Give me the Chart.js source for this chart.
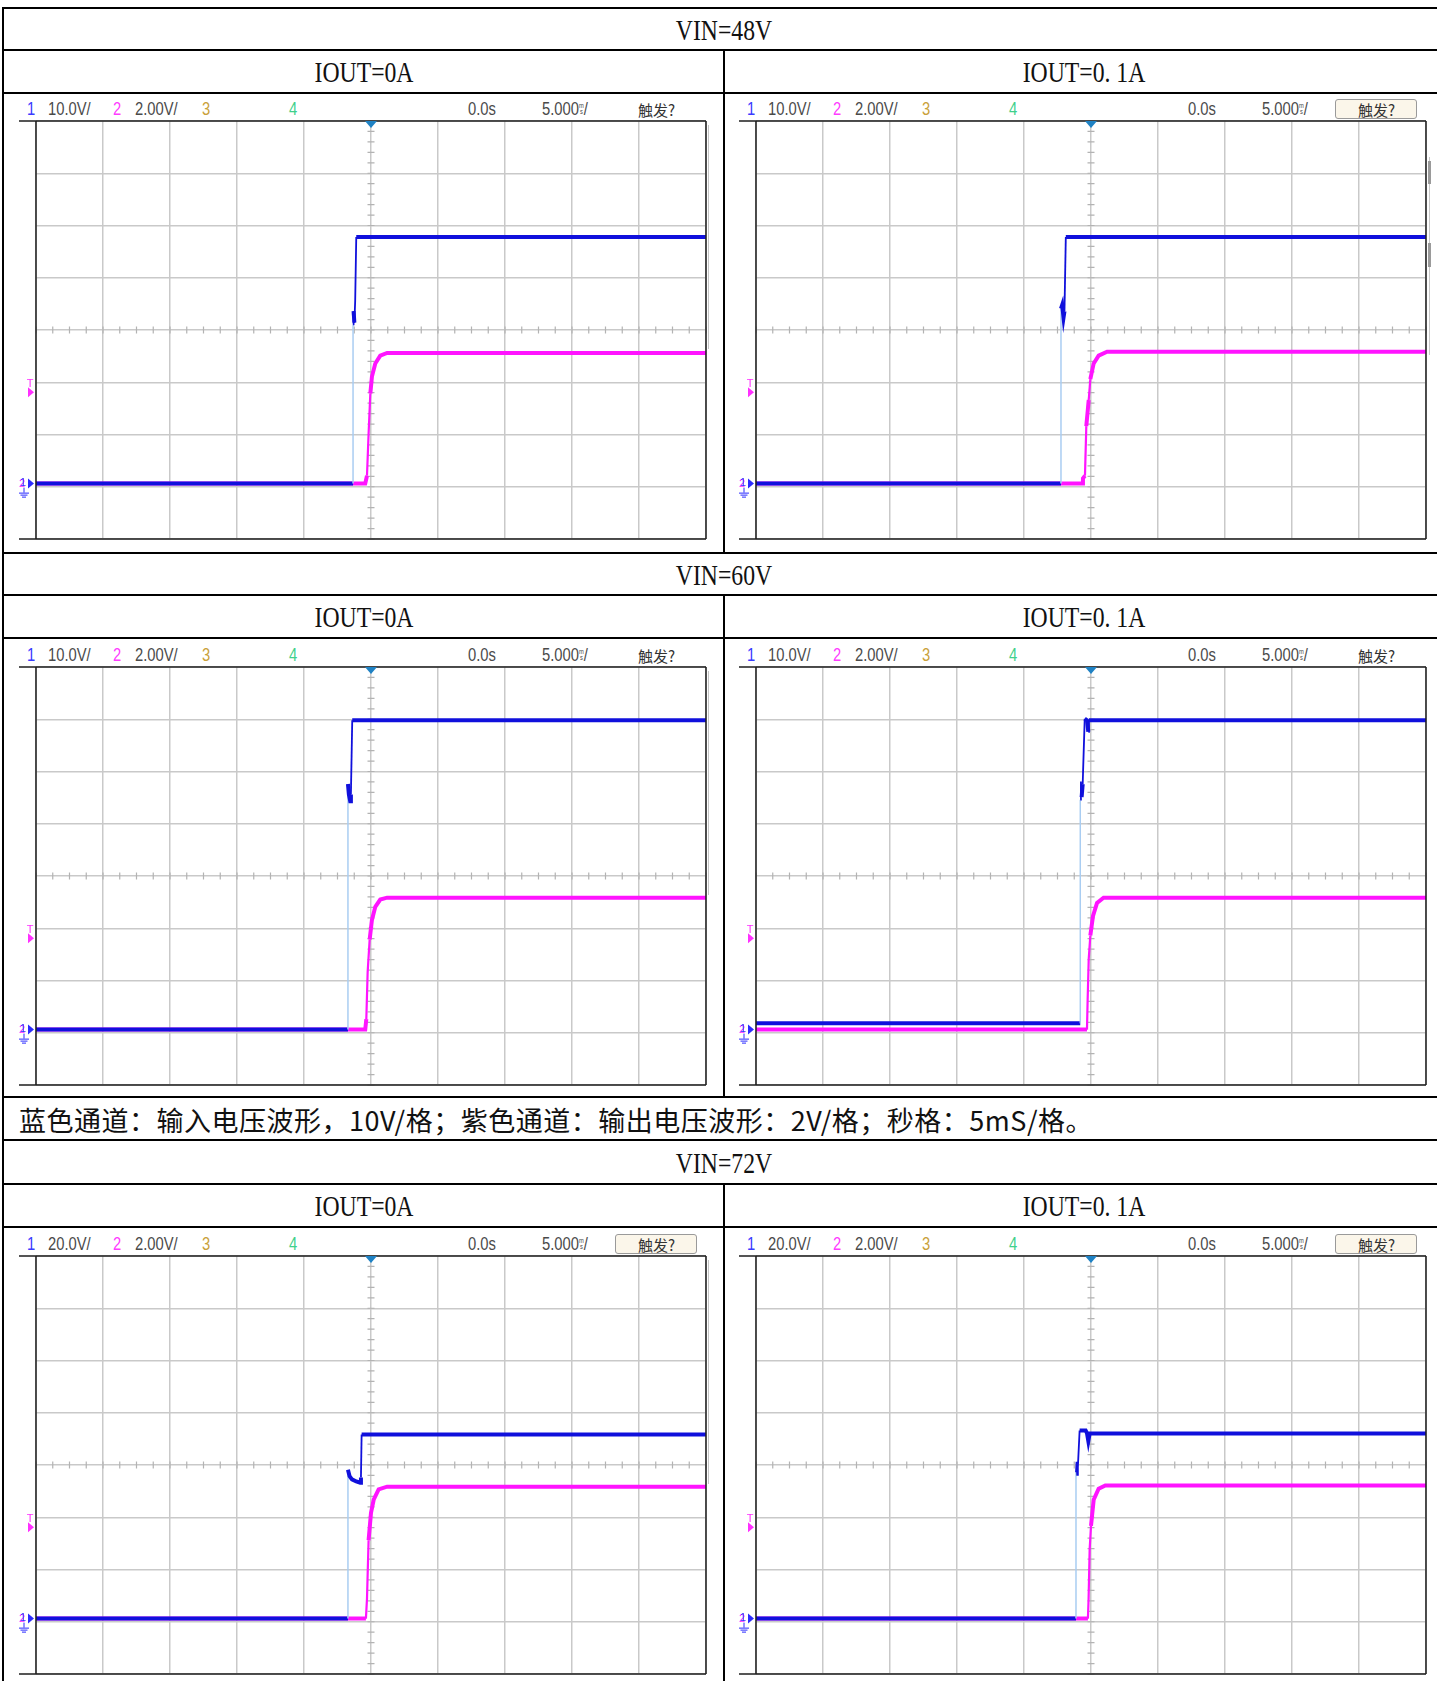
<!DOCTYPE html>
<html>
<head>
<meta charset="utf-8">
<script src="https://cdn.jsdelivr.net/npm/chart.js@4.4.1/dist/chart.umd.min.js"></script>
<style>
body { margin: 0; background: #fff; }
#page { position: relative; width: 1437px; height: 1681px; overflow: hidden; background: #fff; }
.ln { position: absolute; background: #000; }
.lbl { position: absolute; font-family: "Liberation Serif", "DejaVu Serif", serif; font-size: 30px; line-height: 1;
       color: #111; white-space: nowrap; transform: translate(-50%, -50%) scaleX(0.79); }
.note { position: absolute; left: 19px; top: 1119px; transform: translateY(-50%); font-family: "Noto Sans CJK SC", sans-serif;
        font-size: 27px; letter-spacing: 0.5px; line-height: 1; white-space: nowrap; color: #111; }
.hd { position: absolute; font-family: "Liberation Sans", Arial, sans-serif; font-size: 18px; line-height: 1; white-space: nowrap;
      color: #4a4a4a; transform: translateY(-50%) scaleX(0.82); transform-origin: left center; }
.hd.cjk { font-family: "Noto Sans CJK SC", sans-serif; font-size: 15px; color: #333; transform: translateY(-50%); }
.ms { display: inline-block; font-size: 7px; line-height: 6px; vertical-align: 1px; text-align: center; }
.btn { position: absolute; border: 1px solid #9a9a9a; border-radius: 3px; background: #fbf6ea; box-sizing: border-box; }
canvas { position: absolute; }
</style>
</head>
<body>
<div id="page"></div>
<script>
// table texts
const vinLabels = ['VIN=48V', 'VIN=60V', 'VIN=72V'];
const ioutLabels = ['IOUT=0A', 'IOUT=0. 1A'];
const noteText = '蓝色通道：输入电压波形，10V/格；紫色通道：输出电压波形：2V/格；秒格：5mS/格。';

// scope settings per row
const ch1Labels = ['10.0V/', '10.0V/', '20.0V/'];
const blueVoltsPerDiv = [10, 10, 20];
const pinkVoltsPerDiv = 2;
const groundDiv = -2.94;      // both channels' ground marker, in divisions from centre
const triggerLevel = 3.5;     // volts on channel 2
const timeRange = [-25, 25];  // ms, 5 ms/div

// traces: [time ms, volts]
const blue48_0A = [[-25, 0], [-1.34, 0], [-1.34, 30.5], [-1.3, 33], [-1.24, 30.8], [-1.18, 35], [-1.1, 47.2], [25, 47.2]];
const pink48_0A = [[-25, 0], [-0.43, 0], [-0.3, 0.3], [-0.18, 1.9], [-0.05, 3.45], [0.07, 4.1], [0.32, 4.6], [0.69, 4.9], [1.2, 5.0], [25, 5.0]];

const blue48_01A = [[-25, 0], [-2.24, 0], [-2.24, 33.5], [-2.15, 34.2], [-2.05, 31.8], [-1.98, 33], [-1.88, 47.2], [25, 47.2]];
const pink48_01A = [[-25, 0], [-0.67, 0], [-0.6, 0.2], [-0.45, 0.3], [-0.35, 2.2], [-0.17, 3.2], [-0.05, 4.0], [0.2, 4.6], [0.57, 4.9], [1.2, 5.05], [25, 5.05]];

const blue60_0A = [[-25, 0], [-1.72, 0], [-1.72, 47], [-1.65, 45], [-1.55, 43.7], [-1.5, 45], [-1.4, 59.2], [25, 59.2]];
const pink60_0A = [[-25, 0], [-0.43, 0], [-0.35, 0.4], [-0.25, 2.2], [-0.1, 3.45], [0.07, 4.2], [0.32, 4.7], [0.69, 4.98], [1.2, 5.05], [25, 5.05]];

const blue60_01A = [[-25, 1.2], [-0.8, 1.2], [-0.8, 44], [-0.75, 47.5], [-0.7, 44.5], [-0.62, 47], [-0.47, 59.5], [-0.3, 59.2], [-0.2, 57], [-0.15, 59.2], [25, 59.2]];
const pink60_01A = [[-25, 0], [-0.3, 0], [-0.25, 1.15], [-0.17, 2.7], [-0.05, 3.6], [0.15, 4.35], [0.45, 4.85], [0.94, 5.05], [25, 5.05]];

const blue72_0A = [[-25, 0], [-1.72, 0], [-1.72, 57], [-1.6, 54.5], [-1.42, 53.3], [-1.1, 52.5], [-0.8, 52], [-0.75, 54], [-0.7, 70.5], [25, 70.5]];
const pink72_0A = [[-25, 0], [-0.38, 0], [-0.3, 0.75], [-0.18, 3.0], [0, 4.05], [0.2, 4.55], [0.57, 4.95], [1.2, 5.05], [25, 5.05]];

const blue72_01A = [[-25, 0], [-1.12, 0], [-1.12, 56], [-1.08, 60], [-1.03, 55], [-0.98, 58], [-0.85, 72], [-0.4, 72], [-0.3, 71], [-0.2, 68], [-0.1, 70.9], [25, 70.9]];
const pink72_01A = [[-25, 0], [-0.23, 0], [-0.18, 0.75], [-0.1, 2.65], [0, 3.55], [0.2, 4.55], [0.57, 4.97], [1.07, 5.1], [25, 5.1]];

const panels = [
    { row: 0, col: 0, blue: blue48_0A, pink: pink48_0A, btn: false },
    { row: 0, col: 1, blue: blue48_01A, pink: pink48_01A, btn: true },
    { row: 1, col: 0, blue: blue60_0A, pink: pink60_0A, btn: false },
    { row: 1, col: 1, blue: blue60_01A, pink: pink60_01A, btn: false },
    { row: 2, col: 0, blue: blue72_0A, pink: pink72_0A, btn: true },
    { row: 2, col: 1, blue: blue72_01A, pink: pink72_01A, btn: true },
];

// layout
const page = document.getElementById('page');
const rowLines = [8.3, 50, 92.7, 553.4, 595.2, 638, 1097, 1140, 1184, 1227];
const plotTops = [121.4, 666.8, 1255.8];
const plotLefts = [35.7, 755.7];
const PW = 670, PH = 418;
const pad = { left: 22, right: 8, top: 8, bottom: 8 };

function box(cls, x, y, w, h) {
    const d = document.createElement('div');
    d.className = cls;
    Object.assign(d.style, { left: x + 'px', top: y + 'px', width: w + 'px', height: h + 'px' });
    page.appendChild(d);
    return d;
}
function text(cls, x, y, html, color) {
    const d = document.createElement('div');
    d.className = cls;
    d.style.left = x + 'px';
    d.style.top = y + 'px';
    if (color) d.style.color = color;
    d.innerHTML = html;
    page.appendChild(d);
    return d;
}

// table rules
rowLines.forEach(y => box('ln', 3, y - 1, 1440, 2));
box('ln', 2, 7.3, 2, 1681);
[[50, 553.4], [595.2, 1097], [1184, 1681]].forEach(([a, b]) => box('ln', 723, a, 2, b - a));

// table texts
text('lbl', 723.5, 29.5, vinLabels[0]);
text('lbl', 723.5, 574.5, vinLabels[1]);
text('lbl', 723.5, 1162.5, vinLabels[2]);
[71.5, 616.8, 1205.8].forEach(y => {
    text('lbl', 363.5, y, ioutLabels[0]);
    text('lbl', 1084, y, ioutLabels[1]);
});
text('note', 19, 1119, noteText);

// trace helpers
const isEdge = c => c.p0.parsed.x === c.p1.parsed.x && c.p0.parsed.y < 5;
const isSteep = (c, k) => {
    const dx = c.p1.parsed.x - c.p0.parsed.x;
    const dy = Math.abs(c.p1.parsed.y - c.p0.parsed.y);
    return dy > 0.5 && (dx === 0 || dy / dx > k);
};

const scopeDecor = {
    id: 'scopeDecor',
    beforeDatasetsDraw(chart) {
        const { ctx, scales: { x, y } } = chart;
        const cx = x.getPixelForValue(0), cy = y.getPixelForValue(0);
        ctx.save();
        ctx.strokeStyle = '#b3b3b3';
        ctx.lineWidth = 1.2;
        ctx.beginPath();
        for (let v = timeRange[0]; v <= timeRange[1]; v += 1.25) {
            const px = x.getPixelForValue(v);
            ctx.moveTo(px, cy - 3.5); ctx.lineTo(px, cy + 3.5);
        }
        for (let d = -4; d <= 4.001; d += 0.2) {
            const py = y.getPixelForValue(d);
            ctx.moveTo(cx - 3.5, py); ctx.lineTo(cx + 3.5, py);
        }
        ctx.stroke();
        ctx.restore();
    },
    afterDraw(chart) {
        const { ctx, chartArea: a, scales: { x, yB, yP } } = chart;
        ctx.save();
        // frame
        ctx.strokeStyle = '#1e1e1e';
        ctx.lineWidth = 1.5;
        ctx.beginPath();
        ctx.moveTo(a.left - 17, a.top); ctx.lineTo(a.right, a.top);
        ctx.moveTo(a.left - 17, a.bottom); ctx.lineTo(a.right, a.bottom);
        ctx.moveTo(a.left, a.top); ctx.lineTo(a.left, a.bottom);
        ctx.moveTo(a.right, a.top); ctx.lineTo(a.right, a.bottom);
        ctx.stroke();
        // trigger position
        const tx = x.getPixelForValue(0);
        ctx.fillStyle = '#1f82c4';
        ctx.beginPath();
        ctx.moveTo(tx - 6, a.top); ctx.lineTo(tx + 6, a.top); ctx.lineTo(tx, a.top + 7);
        ctx.fill();
        // trigger level
        const ty = yP.getPixelForValue(triggerLevel);
        ctx.fillStyle = '#ff30ff';
        ctx.font = '11px "Liberation Sans", sans-serif';
        ctx.textAlign = 'center';
        ctx.textBaseline = 'bottom';
        ctx.fillText('T', a.left - 6, ty - 3);
        ctx.beginPath();
        ctx.moveTo(a.left - 8, ty - 5); ctx.lineTo(a.left - 2, ty); ctx.lineTo(a.left - 8, ty + 5);
        ctx.fill();
        // ground markers
        const gy = yB.getPixelForValue(0);
        ctx.textBaseline = 'middle';
        ctx.fillStyle = '#ff30ff';
        ctx.fillText('2', a.left - 14, gy);
        ctx.fillStyle = '#2b2bff';
        ctx.fillText('1', a.left - 13, gy - 1);
        ctx.beginPath();
        ctx.moveTo(a.left - 8, gy - 5); ctx.lineTo(a.left - 2, gy); ctx.lineTo(a.left - 8, gy + 5);
        ctx.fill();
        ctx.strokeStyle = '#2b2bff';
        ctx.lineWidth = 1;
        ctx.beginPath();
        const gx = a.left - 12;
        ctx.moveTo(gx, gy + 4); ctx.lineTo(gx, gy + 9);
        ctx.moveTo(gx - 5, gy + 9.5); ctx.lineTo(gx + 5, gy + 9.5);
        ctx.moveTo(gx - 3.5, gy + 11.5); ctx.lineTo(gx + 3.5, gy + 11.5);
        ctx.moveTo(gx - 2, gy + 13.5); ctx.lineTo(gx + 2, gy + 13.5);
        ctx.stroke();
        ctx.restore();
    }
};

function headerFor(p, left, top) {
    const y = top - 12;
    const items = [
        [-9.2, '1', '#3b3bff'],
        [12.3, ch1Labels[p.row]],
        [77.3, '2', '#ff3cff'],
        [99.3, '2.00V/'],
        [165.9, '3', '#c9a13a'],
        [253.3, '4', '#3fd08c'],
        [432.3, '0.0s'],
        [506.3, '5.000<span class="ms">m<br>s</span>/'],
    ];
    if (p.btn) box('btn', left + 578.8, y - 10, 82.5, 20);
    items.forEach(([dx, s, c]) => text('hd', left + dx, y, s, c));
    text('hd cjk', left + 602.3, y, '触发?');
}

panels.forEach(p => {
    const left = plotLefts[p.col], top = plotTops[p.row];
    headerFor(p, left, top);
    if (p.col === 0) {
        box('ln', left + PW + 2.5, top + 4, 1, 224).style.background = '#c4c4c4';
    } else if (p.row === 0) {
        box('ln', left + PW + 3, top + 36, 1.5, 198).style.background = '#c8c8c8';
        box('ln', left + PW + 2.5, top + 40, 2.5, 23).style.background = '#9a9a9a';
        box('ln', left + PW + 2.5, top + 122, 2.5, 24).style.background = '#9a9a9a';
    }
    const cv = document.createElement('canvas');
    cv.width = PW + pad.left + pad.right;
    cv.height = PH + pad.top + pad.bottom;
    cv.style.left = (left - pad.left) + 'px';
    cv.style.top = (top - pad.top) + 'px';
    page.appendChild(cv);

    const bvd = blueVoltsPerDiv[p.row];
    const gridOpts = { color: '#c9c9c9', lineWidth: 1.5, drawTicks: false };
    new Chart(cv, {
        type: 'line',
        data: {
            datasets: [
                {
                    label: 'CH1',
                    data: p.blue.map(([t, v]) => ({ x: t, y: v })),
                    yAxisID: 'yB',
                    borderColor: '#1010dc',
                    borderWidth: 4,
                    pointRadius: 0,
                    segment: {
                        borderColor: c => isEdge(c) ? '#a9cdf2' : undefined,
                        borderWidth: c => isEdge(c) ? 1.5 : (isSteep(c, 40) ? 1.8 : undefined),
                    },
                },
                {
                    label: 'CH2',
                    data: p.pink.map(([t, v]) => ({ x: t, y: v })),
                    yAxisID: 'yP',
                    borderColor: '#ff14ff',
                    borderWidth: 4,
                    pointRadius: 0,
                    segment: { borderWidth: c => isSteep(c, 6) ? 2.2 : undefined },
                },
            ],
        },
        options: {
            responsive: false,
            animation: false,
            devicePixelRatio: 1,
            layout: { padding: pad },
            plugins: { legend: { display: false }, tooltip: { enabled: false } },
            scales: {
                x: {
                    type: 'linear', min: timeRange[0], max: timeRange[1],
                    ticks: { display: false, stepSize: 5 },
                    grid: gridOpts, border: { display: false },
                    afterFit: s => { s.height = 0; },
                },
                y: {
                    type: 'linear', min: -4, max: 4,
                    ticks: { display: false, stepSize: 1 },
                    grid: gridOpts, border: { display: false },
                    afterFit: s => { s.width = 0; },
                },
                yB: { display: false, min: (-4 - groundDiv) * bvd, max: (4 - groundDiv) * bvd },
                yP: { display: false, min: (-4 - groundDiv) * pinkVoltsPerDiv, max: (4 - groundDiv) * pinkVoltsPerDiv },
            },
        },
        plugins: [scopeDecor],
    });
});
</script>
</body>
</html>
